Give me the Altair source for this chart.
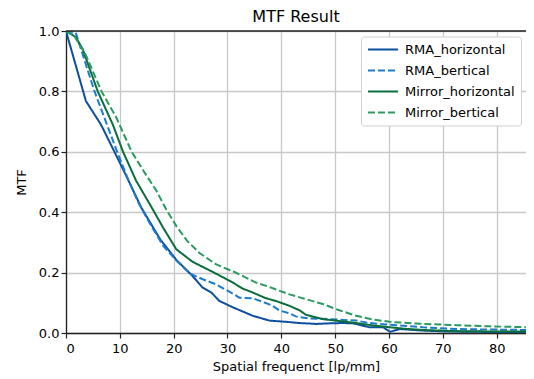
import altair as alt
import pandas as pd

series_names = ["RMA_horizontal", "RMA_bertical", "Mirror_horizontal", "Mirror_bertical"]
series_colors = ["#0d4f9c", "#1a7ccc", "#0a6e3c", "#2a9a60"]
series_dash = [[1, 0], [7, 3], [1, 0], [7, 3]]

rma_h_x = [0, 3.7, 6.5, 9, 11.2, 14, 15.5, 17.5, 20.5, 23.5, 25.4, 27, 28.5, 31, 34.7, 37.8,
           40.9, 43.4, 46.5, 49, 51.4, 53.3, 56.4, 58.9, 60.2, 62, 66.3, 71, 76, 81, 86]
rma_h_y = [1.0, 0.768, 0.69, 0.60, 0.52, 0.415, 0.37, 0.31, 0.242, 0.189, 0.150, 0.134, 0.106, 0.085, 0.057, 0.041,
           0.037, 0.033, 0.030, 0.032, 0.033, 0.032, 0.019, 0.019, 0.004, 0.013, 0.008, 0.005, 0.004, 0.003, 0.003]

rma_b_x = [0, 1.8, 3.5, 5.3, 7.4, 9.5, 11.5, 13.5, 15.5, 18, 20.5, 23, 25.4, 27.9, 31, 32.2, 34.7, 37,
           38.4, 39.6, 41.5, 42.7, 45.2, 47.7, 50.8, 53.9, 56.4, 61.3, 66.3, 72.5, 81, 86]
rma_b_y = [1.0, 0.995, 0.90, 0.80, 0.70, 0.60, 0.51, 0.43, 0.365, 0.29, 0.24, 0.197, 0.178, 0.161, 0.13, 0.117, 0.115, 0.10,
           0.09, 0.075, 0.065, 0.055, 0.048, 0.047, 0.044, 0.041, 0.033, 0.026, 0.019, 0.013, 0.011, 0.010]

mir_h_x = [0, 1.8, 3.1, 5.9, 8.7, 10.6, 13, 16.1, 18, 20.5, 23.5, 27.5, 31, 32.8, 34.7, 37, 39, 41.5,
           43.4, 44.6, 47.7, 50.5, 53.9, 57, 60.1, 63, 66.3, 72.5, 80, 86]
mir_h_y = [1.0, 0.98, 0.94, 0.80, 0.69, 0.60, 0.505, 0.41, 0.35, 0.277, 0.236, 0.20, 0.167, 0.147, 0.134, 0.116, 0.106, 0.09,
           0.075, 0.06, 0.046, 0.04, 0.033, 0.025, 0.019, 0.014, 0.010, 0.006, 0.005, 0.005]

mir_b_x = [0, 1.5, 3.7, 6.6, 9.3, 12.2, 15, 16.7, 18.6, 20.5, 22.5, 24.8, 27.9, 31.3, 35.3, 37.2, 41.5,
           43.4, 47.7, 50.5, 53.9, 57, 60.1, 66.3, 72.5, 78.7, 86]
mir_b_y = [1.0, 0.985, 0.92, 0.80, 0.715, 0.60, 0.52, 0.474, 0.41, 0.354, 0.305, 0.265, 0.227, 0.202, 0.167, 0.156, 0.128,
           0.118, 0.096, 0.077, 0.057, 0.045, 0.037, 0.030, 0.026, 0.022, 0.019]

x_ticks = [0, 10, 20, 30, 40, 50, 60, 70, 80]
y_ticks = [0.0, 0.2, 0.4, 0.6, 0.8, 1.0]

rows = []
for name, xs, ys in zip(series_names,
                        [rma_h_x, rma_b_x, mir_h_x, mir_b_x],
                        [rma_h_y, rma_b_y, mir_h_y, mir_b_y]):
    for i, (xv, yv) in enumerate(zip(xs, ys)):
        rows.append({"series": name, "x": xv, "y": yv, "order": i})
df = pd.DataFrame(rows)

PW, PH = 460, 302

legend = alt.Legend(
    title=None, orient="none", legendX=295, legendY=5.5,
    symbolType="stroke", symbolSize=900, symbolStrokeWidth=2, clipHeight=14,
    labelFontSize=13, labelFont="DejaVu Sans", labelColor="#000",
    strokeColor="#d0d0d0", fillColor="white", cornerRadius=3, padding=6,
    labelOffset=6, rowPadding=7,
)

lines = alt.Chart(df).mark_line(strokeWidth=2, clip=True).encode(
    x=alt.X("x:Q", scale=alt.Scale(domain=[0, 85.45], nice=False, zero=False),
            axis=alt.Axis(values=x_ticks, title="Spatial frequenct [lp/mm]", format="d")),
    y=alt.Y("y:Q", scale=alt.Scale(domain=[0, 1], nice=False),
            axis=alt.Axis(values=y_ticks, title="MTF", format=".1f")),
    color=alt.Color("series:N", scale=alt.Scale(domain=series_names, range=series_colors), legend=legend),
    strokeDash=alt.StrokeDash("series:N", scale=alt.Scale(domain=series_names, range=series_dash), legend=legend),
    order="order:Q",
    detail="series:N",
)

top_spine = alt.Chart(pd.DataFrame({"a": [0]})).mark_rule(color="#222", strokeWidth=1.3).encode(
    x=alt.value(0), x2=alt.value(PW), y=alt.value(0)
)

chart = alt.layer(lines, top_spine).properties(
    width=PW, height=PH,
    title=alt.TitleParams("MTF Result", fontSize=16, fontWeight="normal", font="DejaVu Sans",
                          color="#000", anchor="middle", frame="group", offset=0),
    autosize=alt.AutoSizeParams(type="none"),
    padding={"left": 58, "top": 23, "right": 0, "bottom": 44},
).configure_view(stroke=None).configure_axis(
    grid=True, gridColor="#c8c8c8", gridWidth=1.3,
    domainColor="#222", domainWidth=1.3, tickColor="#222", tickSize=5, tickWidth=1.2,
    labelFont="DejaVu Sans", labelFontSize=13, labelColor="#000",
    titleFont="DejaVu Sans", titleFontSize=13, titleFontWeight="normal", titleColor="#000",
).configure_axisY(titlePadding=9.5, labelPadding=2).configure_axisX(titlePadding=5, labelPadding=4)

chart.save("out.html", embed_options={"renderer": "svg", "actions": False})
